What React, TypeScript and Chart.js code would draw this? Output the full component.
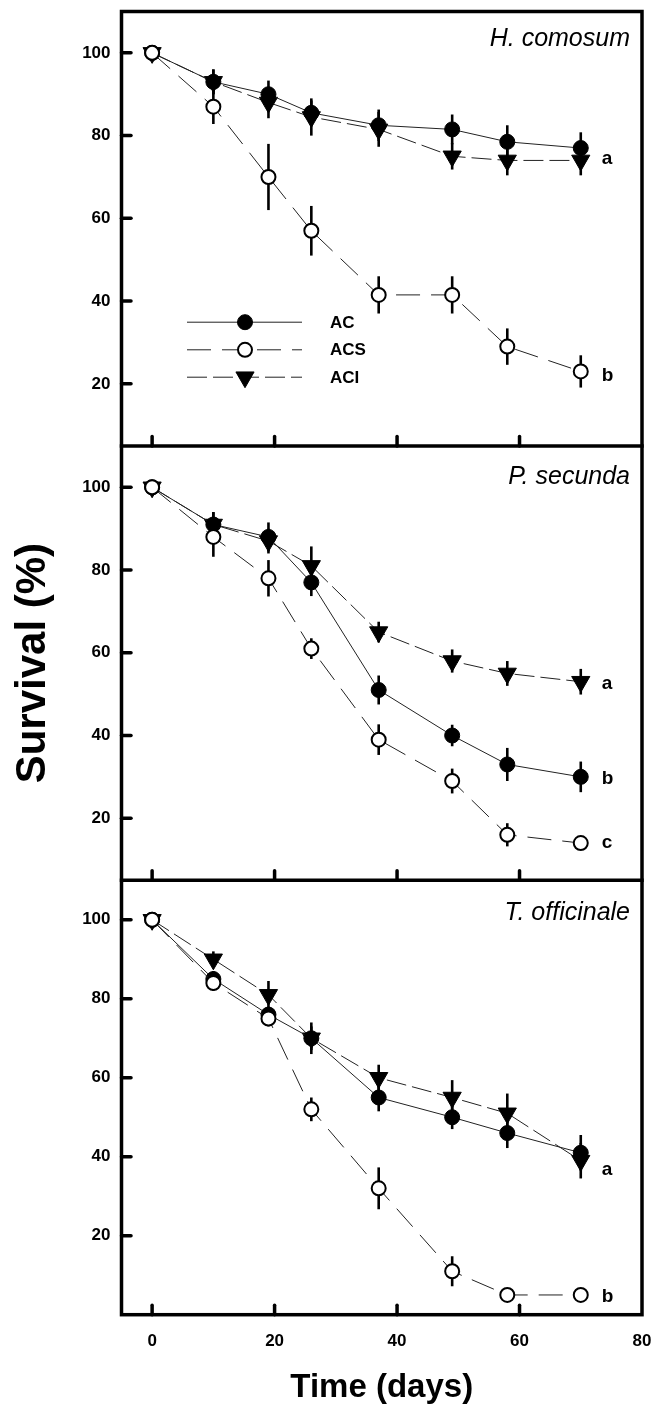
import React, { useEffect, useRef } from 'react';
import { Chart, registerables } from 'chart.js';

Chart.register(...registerables);

// ---------- data ----------
const days = [0, 10, 19, 26, 37, 49, 58, 70];
const xTickValues = [0, 20, 40, 60, 80];
const yTickValues = [20, 40, 60, 80, 100];
const panelNames = ['H. comosum', 'P. secunda', 'T. officinale'];
const seriesNames = ['AC', 'ACS', 'ACI'];
const panelYMin = [5, 5, 0];
const panelYMax = [110, 110, 110];

// H. comosum
const hcAC = [100, 93, 90, 85.5, 82.5, 81.5, 78.5, 77];
const hcACErr = [1, 3, 3.3, 3, 3.8, 3.6, 4, 3.8];
const hcACS = [100, 87, 70, 57, 41.5, 41.5, 29, 23];
const hcACSErr = [1, 4.2, 8, 6, 4.5, 4.5, 4.4, 3.9];
const hcACI = [100, 93, 88, 84.5, 81.5, 75, 74, 74];
const hcACIErr = [1, 3, 3.8, 4.5, 4.2, 3.2, 3.6, 3.6];
const hcLetters = ['a', 'b'];
const hcLetterY = [74.5, 22];

// P. secunda
const psAC = [100, 91, 88, 77, 51, 40, 33, 30];
const psACErr = [1, 3, 3.5, 3.3, 3.5, 2.6, 4, 3.7];
const psACS = [100, 88, 78, 61, 39, 29, 16, 14];
const psACSErr = [1, 4.8, 4.4, 2.5, 3.7, 3, 2.8, 1.5];
const psACI = [100, 91, 87, 81, 65, 58, 55, 53];
const psACIErr = [1, 3, 3, 4.7, 2.5, 2.8, 3, 3.1];
const psLetters = ['a', 'b', 'c'];
const psLetterY = [52.5, 29.5, 14];

// T. officinale
const toAC = [100, 85, 76, 70, 55, 50, 46, 41];
const toACErr = [1, 2, 2, 4, 3.5, 3, 3.8, 4.5];
const toACS = [100, 84, 75, 52, 32, 11, 5, 5];
const toACSErr = [1, 2, 2, 3, 5.3, 3.8, 1, 1];
const toACI = [100, 90, 81, 70, 60, 55, 51, 39];
const toACIErr = [1, 2, 3.5, 3, 3.3, 4.4, 5, 4.5];
const toLetters = ['a', 'b'];
const toLetterY = [36.8, 4.5];

// ---------- styling ----------
const FONT = "'Liberation Sans', Arial, Helvetica, sans-serif";
const panelSeries = [
  [[hcAC, hcACErr], [hcACS, hcACSErr], [hcACI, hcACIErr]],
  [[psAC, psACErr], [psACS, psACSErr], [psACI, psACIErr]],
  [[toAC, toACErr], [toACS, toACSErr], [toACI, toACIErr]],
];
const panelLetters = [
  [hcLetters, hcLetterY],
  [psLetters, psLetterY],
  [toLetters, toLetterY],
];
const seriesStyles = [
  { dash: [] as number[], pointStyle: 'circle', radius: 7.5, bg: '#000', bw: 1, rotation: 0, order: 1 },
  { dash: [24, 11], pointStyle: 'circle', radius: 7, bg: '#fff', bw: 2, rotation: 0, order: 0 },
  { dash: [20, 6], pointStyle: 'triangle', radius: 10.5, bg: '#000', bw: 1, rotation: 180, order: 2 },
];
const titleBaselineOffsets = [34, 38, 40];
const yAxisIds = ['y1', 'y2', 'y3'];

function zeroPadding(s: any) {
  s.paddingTop = 0;
  s.paddingBottom = 0;
  s.paddingLeft = 0;
  s.paddingRight = 0;
}

function drawMarker(ctx: CanvasRenderingContext2D, s: any, x: number, y: number) {
  ctx.save();
  ctx.fillStyle = s.bg;
  ctx.strokeStyle = '#000';
  ctx.lineWidth = s.bw;
  ctx.setLineDash([]);
  ctx.beginPath();
  if (s.pointStyle === 'triangle') {
    const r = s.radius;
    ctx.moveTo(x, y + r);
    ctx.lineTo(x + r * Math.sin(Math.PI / 3), y - r / 2);
    ctx.lineTo(x - r * Math.sin(Math.PI / 3), y - r / 2);
    ctx.closePath();
  } else {
    ctx.arc(x, y, s.radius, 0, Math.PI * 2);
  }
  ctx.fill();
  ctx.stroke();
  ctx.restore();
}

const errorBarPlugin = {
  id: 'errorBars',
  beforeDatasetsDraw(chart: any) {
    const ctx = chart.ctx;
    ctx.save();
    ctx.strokeStyle = '#000';
    ctx.lineWidth = 2.6;
    chart.data.datasets.forEach((ds: any) => {
      const xs = chart.scales.x;
      const ys = chart.scales[ds.yAxisID];
      ds.data.forEach((pt: any, i: number) => {
        const e = ds.errors[i];
        const px = xs.getPixelForValue(pt.x);
        ctx.beginPath();
        ctx.moveTo(px, ys.getPixelForValue(pt.y - e));
        ctx.lineTo(px, ys.getPixelForValue(pt.y + e));
        ctx.stroke();
      });
    });
    ctx.restore();
  },
};

const framePlugin = {
  id: 'frame',
  afterDatasetsDraw(chart: any) {
    const ctx = chart.ctx;
    const { left, right, top, bottom } = chart.chartArea;
    const xs = chart.scales.x;
    ctx.save();
    ctx.strokeStyle = '#000';
    ctx.lineWidth = 3.5;
    ctx.setLineDash([]);
    ctx.strokeRect(left, top, right - left, bottom - top);
    yAxisIds.forEach((id, p) => {
      const ys = chart.scales[id];
      if (p > 0) {
        ctx.beginPath();
        ctx.moveTo(left - 1.75, ys.top);
        ctx.lineTo(right + 1.75, ys.top);
        ctx.stroke();
      }
      // inner ticks
      ctx.lineCap = 'round';
      yTickValues.forEach((v) => {
        const py = ys.getPixelForValue(v);
        ctx.beginPath();
        ctx.moveTo(left, py);
        ctx.lineTo(left + 9.5, py);
        ctx.stroke();
      });
      xTickValues.forEach((v) => {
        const px = xs.getPixelForValue(v);
        if (px > right - 3) return;
        ctx.beginPath();
        ctx.moveTo(px, ys.bottom);
        ctx.lineTo(px, ys.bottom - 9.5);
        ctx.stroke();
      });
      ctx.lineCap = 'butt';
    });
    ctx.restore();
  },
  afterDraw(chart: any) {
    const ctx = chart.ctx;
    const { left, right } = chart.chartArea;
    const xs = chart.scales.x;
    ctx.save();
    ctx.fillStyle = '#000';
    // panel titles
    yAxisIds.forEach((id, p) => {
      const ys = chart.scales[id];
      ctx.font = `italic 25px ${FONT}`;
      ctx.textAlign = 'right';
      ctx.textBaseline = 'alphabetic';
      ctx.fillText(panelNames[p], right - 12, ys.top + titleBaselineOffsets[p]);
      // letters
      const [letters, ly] = panelLetters[p] as [string[], number[]];
      ctx.font = `bold 19px ${FONT}`;
      ctx.textAlign = 'left';
      ctx.textBaseline = 'middle';
      const lx = xs.getPixelForValue(days[days.length - 1]) + 21;
      letters.forEach((t, i) => {
        ctx.fillText(t, lx, ys.getPixelForValue(ly[i]));
      });
    });
    // legend in first panel
    const top = chart.chartArea.top;
    const rows = [310.7, 338.3, 365.7];
    seriesStyles.forEach((s, i) => {
      const y = top + rows[i];
      ctx.save();
      ctx.strokeStyle = '#222';
      ctx.lineWidth = 1;
      ctx.setLineDash(s.dash);
      ctx.beginPath();
      ctx.moveTo(left + 65.5, y);
      ctx.lineTo(left + 180.5, y);
      ctx.stroke();
      ctx.restore();
      drawMarker(ctx, s, left + 123.5, y);
      ctx.font = `bold 17px ${FONT}`;
      ctx.textAlign = 'left';
      ctx.textBaseline = 'middle';
      ctx.fillStyle = '#000';
      ctx.fillText(seriesNames[i], left + 208.5, y + 1);
    });
    ctx.restore();
  },
};

function yScale(p: number) {
  return {
    type: 'linear',
    position: 'left',
    stack: 'panels',
    stackWeight: 1,
    weight: 3 - p,
    min: panelYMin[p],
    max: panelYMax[p],
    afterBuildTicks: (s: any) => {
      s.ticks = yTickValues.map((v) => ({ value: v }));
    },
    afterFit: (s: any) => {
      s.width = 121.5;
      zeroPadding(s);
    },
    grid: { display: false, drawTicks: false },
    border: { display: false },
    ticks: {
      color: '#000',
      padding: 11,
      font: { family: FONT, size: 17, weight: 'bold' },
      callback: (v: any) => String(v),
    },
    title:
      p === 1
        ? {
            display: true,
            text: 'Survival (%)',
            color: '#000',
            font: { family: FONT, size: 42, weight: 'bold' },
            padding: { top: 8, bottom: 0 },
          }
        : { display: false },
  };
}

export default function App() {
  const ref = useRef<HTMLCanvasElement | null>(null);
  useEffect(() => {
    if (!ref.current) return;
    const datasets: any[] = [];
    panelSeries.forEach((series, p) => {
      series.forEach(([vals, errs], s) => {
        const st = seriesStyles[s];
        datasets.push({
          label: `${panelNames[p]} ${seriesNames[s]}`,
          data: days.map((d, i) => ({ x: d, y: vals[i] })),
          errors: errs,
          yAxisID: yAxisIds[p],
          borderColor: '#222',
          borderWidth: 1,
          borderDash: st.dash,
          pointStyle: st.pointStyle,
          pointRadius: st.radius,
          pointRotation: st.rotation,
          pointBackgroundColor: st.bg,
          pointBorderColor: '#000',
          pointBorderWidth: st.bw,
          fill: false,
          tension: 0,
          order: st.order,
          clip: false,
        });
      });
    });
    const chart = new Chart(ref.current, {
      type: 'line',
      data: { datasets },
      options: {
        animation: false,
        responsive: false,
        devicePixelRatio: 1,
        layout: { padding: { top: 11, right: 14, left: 0, bottom: 0 } },
        plugins: { legend: { display: false }, tooltip: { enabled: false } },
        scales: {
          x: {
            type: 'linear',
            position: 'bottom',
            min: -5,
            max: 80,
            afterBuildTicks: (s: any) => {
              s.ticks = xTickValues.map((v) => ({ value: v }));
            },
            afterFit: (s: any) => {
              s.height = 93.3;
              zeroPadding(s);
            },
            grid: { display: false, drawTicks: false },
            border: { display: false },
            ticks: {
              color: '#000',
              padding: 16,
              maxRotation: 0,
              font: { family: FONT, size: 17, weight: 'bold' },
              callback: (v: any) => String(v),
            },
            title: {
              display: true,
              text: 'Time (days)',
              color: '#000',
              font: { family: FONT, size: 33, weight: 'bold' },
              padding: { top: 0, bottom: 0 },
            },
          },
          y1: yScale(0),
          y2: yScale(1),
          y3: yScale(2),
        } as any,
      },
      plugins: [errorBarPlugin, framePlugin],
    } as any);
    return () => chart.destroy();
  }, []);
  return (
    <div style={{ position: 'absolute', left: 0, top: 0, width: 656, height: 1408, background: '#fff' }}>
      <canvas ref={ref} width={656} height={1408} style={{ display: 'block' }} />
    </div>
  );
}
